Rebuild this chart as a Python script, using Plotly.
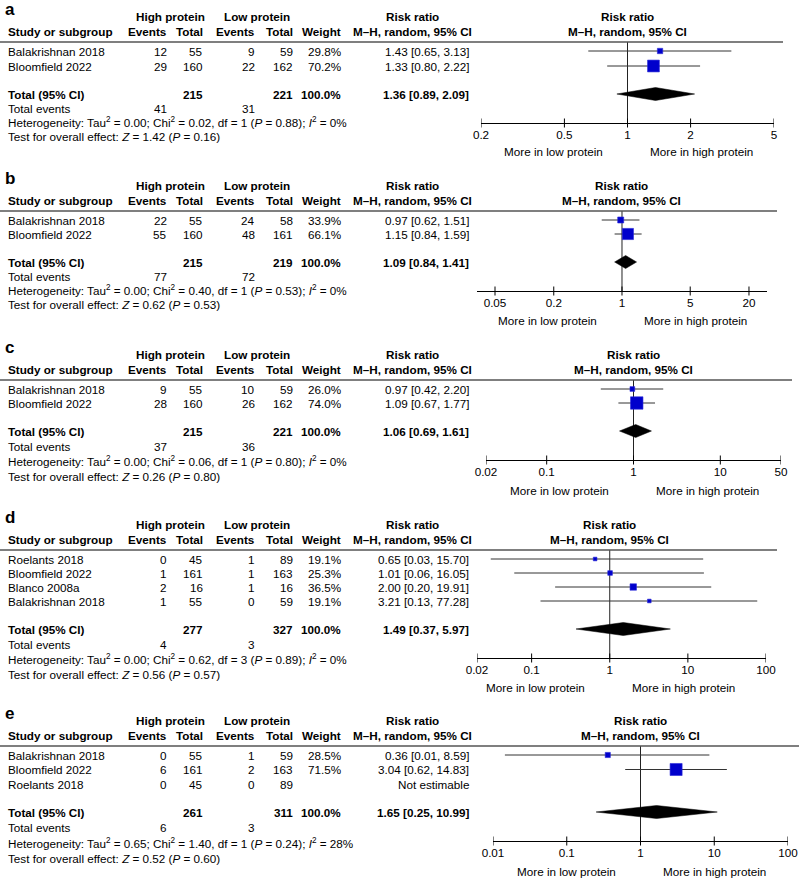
import math
import plotly.graph_objects as go

W, H = 799, 881
FONT = "Liberation Sans, Arial, sans-serif"
FS = 11.7
BLUE = "#0000cc"

# ---------------- data ----------------
panel_labels = ["a", "b", "c", "d", "e"]

# panel a
studies_a = ["Balakrishnan 2018", "Bloomfield 2022"]
hi_ev_a = [12, 29]; hi_n_a = [55, 160]; lo_ev_a = [9, 22]; lo_n_a = [59, 162]
weight_a = [29.8, 70.2]
rr_a = [1.43, 1.33]; rr_lo_a = [0.65, 0.80]; rr_hi_a = [3.13, 2.22]
total_a = [215, 221]; tot_ev_a = [41, 31]; pooled_a = [1.36, 0.89, 2.09]
het_a = ["0.00", "0.02", 1, "0.88", "0%"]; z_a = ["1.42", "0.16"]
ticks_a = [0.2, 0.5, 1, 2, 5]

# panel b
studies_b = ["Balakrishnan 2018", "Bloomfield 2022"]
hi_ev_b = [22, 55]; hi_n_b = [55, 160]; lo_ev_b = [24, 48]; lo_n_b = [58, 161]
weight_b = [33.9, 66.1]
rr_b = [0.97, 1.15]; rr_lo_b = [0.62, 0.84]; rr_hi_b = [1.51, 1.59]
total_b = [215, 219]; tot_ev_b = [77, 72]; pooled_b = [1.09, 0.84, 1.41]
het_b = ["0.00", "0.40", 1, "0.53", "0%"]; z_b = ["0.62", "0.53"]
ticks_b = [0.05, 0.2, 1, 5, 20]

# panel c
studies_c = ["Balakrishnan 2018", "Bloomfield 2022"]
hi_ev_c = [9, 28]; hi_n_c = [55, 160]; lo_ev_c = [10, 26]; lo_n_c = [59, 162]
weight_c = [26.0, 74.0]
rr_c = [0.97, 1.09]; rr_lo_c = [0.42, 0.67]; rr_hi_c = [2.20, 1.77]
total_c = [215, 221]; tot_ev_c = [37, 36]; pooled_c = [1.06, 0.69, 1.61]
het_c = ["0.00", "0.06", 1, "0.80", "0%"]; z_c = ["0.26", "0.80"]
ticks_c = [0.02, 0.1, 1, 10, 50]

# panel d
studies_d = ["Roelants 2018", "Bloomfield 2022", "Blanco 2008a", "Balakrishnan 2018"]
hi_ev_d = [0, 1, 2, 1]; hi_n_d = [45, 161, 16, 55]; lo_ev_d = [1, 1, 1, 0]; lo_n_d = [89, 163, 16, 59]
weight_d = [19.1, 25.3, 36.5, 19.1]
rr_d = [0.65, 1.01, 2.00, 3.21]; rr_lo_d = [0.03, 0.06, 0.20, 0.13]; rr_hi_d = [15.70, 16.05, 19.91, 77.28]
total_d = [277, 327]; tot_ev_d = [4, 3]; pooled_d = [1.49, 0.37, 5.97]
het_d = ["0.00", "0.62", 3, "0.89", "0%"]; z_d = ["0.56", "0.57"]
ticks_d = [0.02, 0.1, 1, 10, 100]

# panel e
studies_e = ["Balakrishnan 2018", "Bloomfield 2022", "Roelants 2018"]
hi_ev_e = [0, 6, 0]; hi_n_e = [55, 161, 45]; lo_ev_e = [1, 2, 0]; lo_n_e = [59, 163, 89]
weight_e = [28.5, 71.5, None]
rr_e = [0.36, 3.04, None]; rr_lo_e = [0.0145, 0.62, None]; rr_hi_e = [8.59, 14.83, None]
total_e = [261, 311]; tot_ev_e = [6, 3]; pooled_e = [1.65, 0.25, 10.99]
het_e = ["0.65", "1.40", 1, "0.24", "28%"]; z_e = ["0.52", "0.60"]
ticks_e = [0.01, 0.1, 1, 10, 100]

# ---------------- layout (pixel positions) ----------------
line_y = [42, 211, 380, 550, 746]
line_end = [783, 777, 792, 777, 799]
row_gap = [15, 14, 14, 14, 14.5]
foot_gap = [14, 14, 15, 15, 15.5]
axis_px = [(481, 774), (477, 767), (486, 781), (477, 766), (493, 788)]
axis_rng = [(0.2, 5), (0.0327, 30.6), (0.02, 50), (0.02, 100), (0.01, 100)]
more_gap = [28, 29, 30, 29, 30]
dia_half = [6.5, 6.5, 6.5, 6.5, 6.5]

panels = [
    dict(st=studies_a, he=hi_ev_a, hn=hi_n_a, le=lo_ev_a, ln=lo_n_a, w=weight_a, rr=rr_a, lo=rr_lo_a, hi=rr_hi_a,
         tot=total_a, tev=tot_ev_a, pool=pooled_a, het=het_a, z=z_a, ticks=ticks_a),
    dict(st=studies_b, he=hi_ev_b, hn=hi_n_b, le=lo_ev_b, ln=lo_n_b, w=weight_b, rr=rr_b, lo=rr_lo_b, hi=rr_hi_b,
         tot=total_b, tev=tot_ev_b, pool=pooled_b, het=het_b, z=z_b, ticks=ticks_b),
    dict(st=studies_c, he=hi_ev_c, hn=hi_n_c, le=lo_ev_c, ln=lo_n_c, w=weight_c, rr=rr_c, lo=rr_lo_c, hi=rr_hi_c,
         tot=total_c, tev=tot_ev_c, pool=pooled_c, het=het_c, z=z_c, ticks=ticks_c),
    dict(st=studies_d, he=hi_ev_d, hn=hi_n_d, le=lo_ev_d, ln=lo_n_d, w=weight_d, rr=rr_d, lo=rr_lo_d, hi=rr_hi_d,
         tot=total_d, tev=tot_ev_d, pool=pooled_d, het=het_d, z=z_d, ticks=ticks_d),
    dict(st=studies_e, he=hi_ev_e, hn=hi_n_e, le=lo_ev_e, ln=lo_n_e, w=weight_e, rr=rr_e, lo=rr_lo_e, hi=rr_hi_e,
         tot=total_e, tev=tot_ev_e, pool=pooled_e, het=het_e, z=z_e, ticks=ticks_e),
]

# column x positions (right edges) for the table
X_STUDY = 6
X_HE, X_HN, X_LE, X_LN, X_W, X_RR = 169, 205, 257, 295, 343, 471
X_HP, X_LP, X_RRC = 170, 257, 412

fig = go.Figure()
annotations = []
shapes = []


def ann(x, y, text, anchor="right", bold=False, size=FS, xref="paper", xshift=0):
    if text == "":
        return
    if bold:
        text = f"<b>{text}</b>"
    annotations.append(dict(
        x=(x / W) if xref == "paper" else x, y=y, xref=xref, yref="y", text=text, showarrow=False,
        xanchor=anchor, yanchor="middle", xshift=xshift,
        font=dict(family=FONT, size=size, color="#000")))


def fmt_ci(r, l, h):
    if r is None:
        return "Not estimable"
    return f"{r:.2f} [{l:.2f}, {h:.2f}]"


layout_axes = {}
for k, p in enumerate(panels):
    xa = "x" if k == 0 else f"x{k + 1}"
    axkey = "xaxis" if k == 0 else f"xaxis{k + 1}"
    L = line_y[k]
    n = len(p["st"])
    rows = [L + 9 + i * row_gap[k] for i in range(n)]
    y_tot = rows[-1] + 28
    y_tev = y_tot + foot_gap[k]
    y_het = y_tev + foot_gap[k]
    y_test = y_het + foot_gap[k]
    y_axis = y_tot + 29
    y_more = y_axis + more_gap[k]
    h1, h2 = L - 26, L - 11

    # header texts
    ann(3, L - 33, panel_labels[k], anchor="left", bold=True, size=17)
    ann(X_HP, h1, "High protein", anchor="center", bold=True)
    ann(X_LP, h1, "Low protein", anchor="center", bold=True)
    ann(X_RRC, h1, "Risk ratio", anchor="center", bold=True)
    ann(X_STUDY, h2, "Study or subgroup", anchor="left", bold=True)
    for xx, t in [(X_HE, "Events"), (X_HN, "Total"), (X_LE, "Events"), (X_LN, "Total"), (X_W, "Weight")]:
        ann(xx, h2, t, bold=True)
    ann(X_RRC, h2, "M\u2013H, random, 95% CI", anchor="center", bold=True)
    ann(0, h1, "Risk ratio", anchor="center", bold=True, xref=xa)
    ann(0, h2, "M\u2013H, random, 95% CI", anchor="center", bold=True, xref=xa)

    shapes.append(dict(type="line", xref="paper", yref="y", x0=0, x1=line_end[k] / W, y0=L, y1=L,
                       line=dict(color="#555", width=1.5)))

    # study rows
    for i in range(n):
        y = rows[i]
        ann(X_STUDY, y, p["st"][i], anchor="left")
        ann(X_HE, y, str(p["he"][i]))
        ann(X_HN, y, str(p["hn"][i]))
        ann(X_LE, y, str(p["le"][i]))
        ann(X_LN, y, str(p["ln"][i]))
        ann(X_W, y, "" if p["w"][i] is None else f"{p['w'][i]:.1f}%")
        ann(X_RR, y, fmt_ci(p["rr"][i], p["lo"][i], p["hi"][i]))

    # totals
    ann(X_STUDY, y_tot, "Total (95% CI)", anchor="left", bold=True)
    ann(X_HN, y_tot, str(p["tot"][0]), bold=True)
    ann(X_LN, y_tot, str(p["tot"][1]), bold=True)
    ann(X_W, y_tot, "100.0%", bold=True)
    ann(X_RR, y_tot, fmt_ci(*p["pool"]), bold=True)
    ann(X_STUDY, y_tev, "Total events", anchor="left")
    ann(X_HE, y_tev, str(p["tev"][0]))
    ann(X_LE, y_tev, str(p["tev"][1]))
    tau, chi, df, pv, i2 = p["het"]
    ann(X_STUDY, y_het,
        f"Heterogeneity: Tau<sup>2</sup> = {tau}; Chi<sup>2</sup> = {chi}, df = {df} (<i>P</i> = {pv}); "
        f"<i>I</i><sup>2</sup> = {i2}", anchor="left")
    ann(X_STUDY, y_test, f"Test for overall effect: <i>Z</i> = {p['z'][0]} (<i>P</i> = {p['z'][1]})", anchor="left")

    # direction labels
    ann(0, y_more, "More in low protein", anchor="center", xref=xa, xshift=-74)
    ann(0, y_more, "More in high protein", anchor="center", xref=xa, xshift=74)

    # ---- forest marks ----
    fig.add_trace(go.Scatter(x=[1, 1], y=[L, y_axis], mode="lines", xaxis=xa, yaxis="y",
                             line=dict(color="#222", width=1), hoverinfo="skip", showlegend=False))
    cx, cy = [], []
    for i in range(n):
        if p["rr"][i] is None:
            continue
        cx += [p["lo"][i], p["hi"][i], None]
        cy += [rows[i], rows[i], None]
    fig.add_trace(go.Scatter(x=cx, y=cy, mode="lines", xaxis=xa, yaxis="y",
                             line=dict(color="#333", width=1), hoverinfo="skip", showlegend=False))
    sx, sy, ss = [], [], []
    for i in range(n):
        if p["rr"][i] is None:
            continue
        sx.append(p["rr"][i]); sy.append(rows[i]); ss.append(0.16 * p["w"][i] + 0.6)
    fig.add_trace(go.Scatter(x=sx, y=sy, mode="markers", xaxis=xa, yaxis="y",
                             marker=dict(symbol="square", size=ss, color=BLUE, opacity=1,
                                         line=dict(width=0.6, color="#2a2ad8")),
                             hoverinfo="skip", showlegend=False))
    est, dlo, dhi = p["pool"]
    hh = dia_half[k]
    fig.add_trace(go.Scatter(x=[dlo, est, dhi, est, dlo], y=[y_tot, y_tot - hh, y_tot, y_tot + hh, y_tot],
                             mode="lines", fill="toself", fillcolor="#000", xaxis=xa, yaxis="y",
                             line=dict(color="#000", width=0.5), hoverinfo="skip", showlegend=False))
    tx, ty = [], []
    for t in p["ticks"]:
        tx += [t, t, None]
        ty += [y_axis - 4.5, y_axis + 4.5, None]
    fig.add_trace(go.Scatter(x=tx, y=ty, mode="lines", xaxis=xa, yaxis="y",
                             line=dict(color="#000", width=1), hoverinfo="skip", showlegend=False))

    x0, x1 = axis_px[k]
    r0, r1 = axis_rng[k]
    layout_axes[axkey] = dict(
        type="log", range=[math.log10(r0), math.log10(r1)], domain=[x0 / W, x1 / W],
        anchor="free", position=1 - y_axis / H, showline=True, linecolor="#000", linewidth=1,
        ticks="", tickvals=p["ticks"], ticktext=[f"{t:g}" for t in p["ticks"]],
        tickfont=dict(family=FONT, size=FS, color="#000"), showgrid=False, zeroline=False,
        ticklabelstandoff=1, fixedrange=True, automargin=False)

fig.update_layout(
    template="none",
    width=W, height=H, margin=dict(l=0, r=0, t=0, b=0, pad=0, autoexpand=False),
    paper_bgcolor="white", plot_bgcolor="rgba(0,0,0,0)", showlegend=False,
    yaxis=dict(range=[H, 0], domain=[0, 1], visible=False, fixedrange=True, automargin=False),
    annotations=annotations, shapes=shapes,
    **layout_axes)

fig.write_html("out.html", config={"displayModeBar": False},
               post_script="document.body.style.margin='0';document.body.style.overflow='hidden';")
